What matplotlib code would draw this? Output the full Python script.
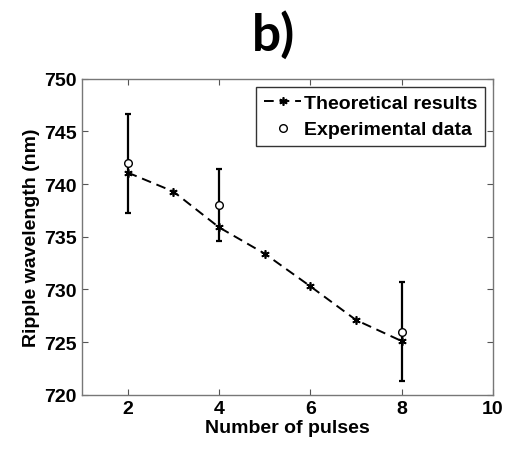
import matplotlib
matplotlib.use('Agg')
import matplotlib.pyplot as plt

plt.rcParams['font.family'] = ['Liberation Sans', 'DejaVu Sans']
plt.rcParams['font.weight'] = 'bold'

# 理論値
pulses_theory = [2, 3, 4, 5, 6, 7, 8]
wavelength_theory = [741.1, 739.3, 735.9, 733.4, 730.3, 727.1, 725.1]
# 実験値と誤差
pulses_exp = [2, 4, 8]
wavelength_exp = [742.0, 738.0, 726.0]
error_exp = [4.7, 3.4, 4.7]

x_ticks = [2, 4, 6, 8, 10]
y_ticks = [720, 725, 730, 735, 740, 745, 750]


def main():
    fig = plt.figure(figsize=(5.19, 4.56), dpi=100)
    ax = fig.add_axes([0.158, 0.132, 0.792, 0.693])

    ax.errorbar(pulses_exp, wavelength_exp, yerr=error_exp, fmt='none',
                ecolor='black', elinewidth=1.6, capsize=2.5, capthick=1.6)
    ax.plot(pulses_theory, wavelength_theory, '--', color='black', lw=1.4,
            marker=(6, 2, 0), markersize=6, markeredgewidth=1.2,
            dashes=(5, 3), label='Theoretical results')
    ax.plot(pulses_exp, wavelength_exp, 'o', color='black', markerfacecolor='white',
            markersize=5.5, markeredgewidth=1.0, linestyle='none', label='Experimental data')

    ax.set_xlim(1, 10)
    ax.set_ylim(720, 750)
    ax.set_xticks(x_ticks)
    ax.set_yticks(y_ticks)
    ax.tick_params(direction='in', top=True, right=True, labelsize=14, length=4,
                   color='#555555', pad=4)
    for lab in ax.get_xticklabels() + ax.get_yticklabels():
        lab.set_fontweight('bold')
    for sp in ax.spines.values():
        sp.set_color('#777777')
        sp.set_linewidth(1.0)

    ax.set_xlabel('Number of pulses', fontsize=14, fontweight='bold', labelpad=1)
    ax.set_ylabel('Ripple wavelength (nm)', fontsize=14, fontweight='bold', labelpad=3)

    leg = ax.legend(loc='upper right', fontsize=14, frameon=True, fancybox=False,
                    handlelength=1.9, handletextpad=0.15, borderpad=0.4,
                    labelspacing=0.45, borderaxespad=0.4)
    leg.get_frame().set_edgecolor('black')
    leg.get_frame().set_linewidth(1.0)

    fig.text(0.527, 0.975, 'b)', family=['Lato', 'DejaVu Sans'], fontsize=37,
             fontweight='bold', ha='center', va='top')

    fig.savefig('out.png', dpi=100)


if __name__ == '__main__':
    main()
